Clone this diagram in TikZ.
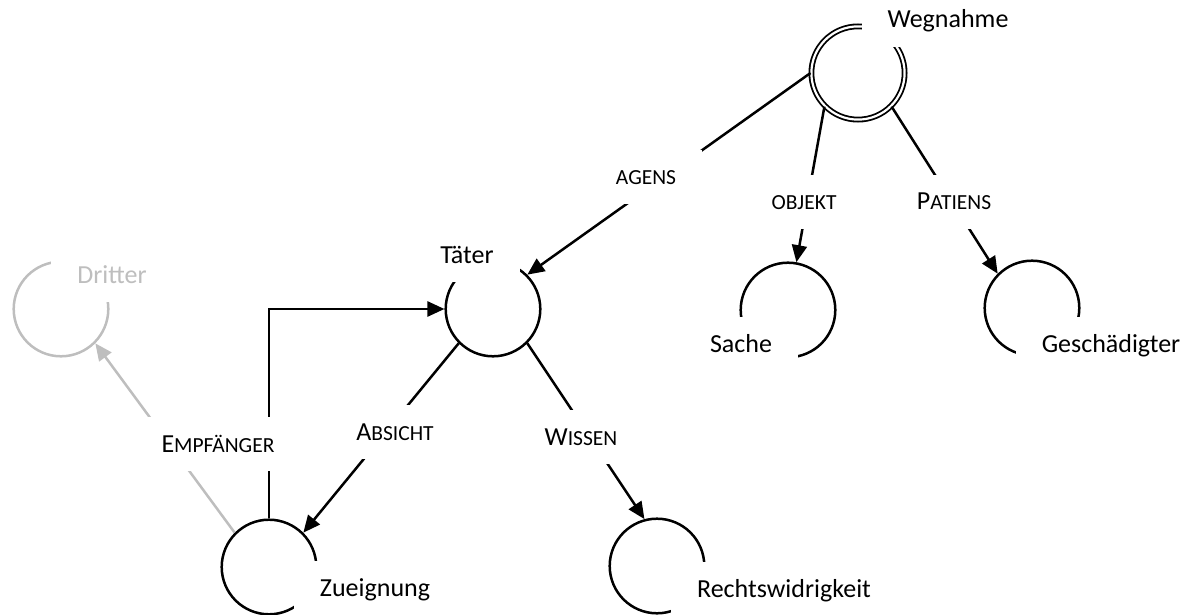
\documentclass[tikz,border=0pt]{standalone}
\usepackage{fontspec}
\setmainfont{Carlito}
\usetikzlibrary{arrows.meta}
\definecolor{faded}{RGB}{190,190,190}
% small capitals for the relation names
\newcommand\smcap[1]{{\fontsize{21.5}{23}\selectfont\MakeUppercase{#1}}}
\begin{document}
\begin{tikzpicture}[x=1pt,y=-1pt,
  concept/.style={circle,draw,line width=2.5pt,minimum size=94.6pt,inner sep=0pt},
  mainconcept/.style={concept,double,line width=1.8pt,double distance=2.2pt,minimum size=93.2pt},
  tag/.style={fill=white,inner xsep=26pt,inner ysep=12pt,text height=23pt,text depth=7pt,
    anchor=base,font=\fontsize{26}{30}\selectfont},
  rel/.style={line width=2.5pt,-{Triangle[length=17pt,width=15pt]}},
  fadedrel/.style={rel,draw=faded},
]
\useasboundingbox (0,0) rectangle (1184,615);

% concepts
\node[mainconcept] (W) at (858,73) {};
\node[concept] (T) at (493,309) {};
\node[concept] (S) at (788,310) {};
\node[concept] (G) at (1032,308) {};
\node[concept,draw=faded] (D) at (61,309) {};
\node[concept] (Z) at (269,567) {};
\node[concept] (R) at (657,566) {};

% concept names
\node[tag] (tW) at (948,28) {Wegnahme};
\node[tag] (tT) at (467,263) {Täter};
\node[tag] (tS) at (741,352) {Sache};
\node[tag] (tG) at (1111,352) {Geschädigter};
\node[tag,text=faded] (tD) at (112,283) {Dritter};
\node[tag] (tZ) at (375,596) {Zueignung};
\node[tag] (tR) at (784,597) {Rechtswidrigkeit};

% relations
\draw[rel] (W.west) -- (T.north east);
\draw[rel] (W.south west) -- (S.80);
\draw[rel] (W.south east) -- (G.north west);
\draw[rel] (T.south west) -- (Z.north east);
\draw[rel] (T.south east) -- (R.105);
\draw[rel] (Z.north) |- (T.west);
\draw[fadedrel] (Z.north west) -- (D.south east);

% relation names
\node[tag] (lagens) at (646,185) {\smcap{agens}};
\node[tag] (lobjekt) at (804,210) {\smcap{objekt}};
\node[tag] (lpatiens) at (954,210) {P\smcap{atiens}};
\node[tag] (labsicht) at (395,440) {A\smcap{bsicht}};
\node[tag] (lwissen) at (581,445) {W\smcap{issen}};
\node[tag] (lempf) at (218,452) {E\smcap{mpfänger}};
\end{tikzpicture}
\end{document}
